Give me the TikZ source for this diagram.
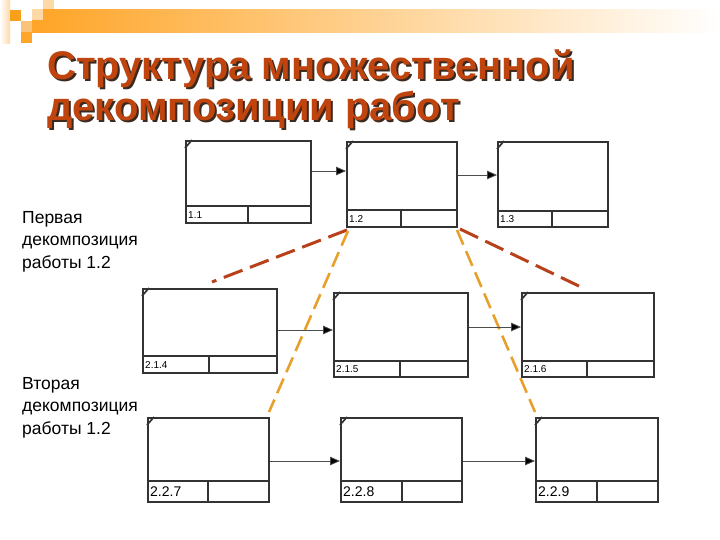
\documentclass[tikz,border=0pt]{standalone}
\usepackage{fontspec}
\setmainfont{Liberation Sans}
\usetikzlibrary{arrows.meta,calc}
\definecolor{ttl}{HTML}{C0440E}
\definecolor{ttlshadow}{HTML}{3A2A20}
\definecolor{reddash}{HTML}{B8401A}
\definecolor{orgdash}{HTML}{E8A02C}
\definecolor{barorange}{HTML}{FFA62A}
\definecolor{sqdark}{HTML}{F9A01B}
\definecolor{sqpeach}{HTML}{FDD9A8}
\definecolor{sqmid}{HTML}{FBC27A}
\definecolor{boxline}{HTML}{333333}
\newcommand\shadowed[1]{\makebox[0pt][l]{\hspace{2pt}\raisebox{-2pt}{\color{ttlshadow}#1}}#1}
\tikzset{
  idef/.style={draw=boxline, line width=1.7pt, fill=white, rectangle, inner sep=0pt},
  idefline/.style={draw=boxline, line width=1.7pt},
  flow/.style={draw=black!70, line width=0.8pt, -{Triangle[length=10pt,width=8.5pt,fill=black]}},
  reddec/.style={draw=reddash, line width=3pt, dash pattern=on 20pt off 8pt},
  orgdec/.style={draw=orgdash, line width=2.6pt, dash pattern=on 16pt off 7pt},
  smalllbl/.style={font=\fontsize{10}{12}\selectfont, inner sep=0pt, anchor=west},
  biglbl/.style={font=\fontsize{14}{16}\selectfont, inner sep=0pt, anchor=west},
  ttltext/.style={font=\fontsize{40}{48}\selectfont\bfseries, inner sep=0pt, anchor=base west, text=ttl},
  sidetext/.style={font=\fontsize{17.5}{22.5}\selectfont, align=left, inner sep=0pt, anchor=north west}
}
% #1 name, #2 left x, #3 top y, #4 width, #5 height, #6 strip height, #7 cell width, #8 label style, #9 label
\newcommand\idefbox[9]{%
  \node[idef, minimum width=#4pt, minimum height=#5pt, anchor=north west] (#1) at (#2,#3) {};
  \draw[idefline] ([yshift=#6pt]#1.south west) -- ([yshift=#6pt]#1.south east);
  \draw[idefline] ([xshift=#7pt,yshift=#6pt]#1.south west) -- ([xshift=#7pt]#1.south west);
  \draw[idefline] ([yshift=-8pt]#1.north west) -- ([xshift=7pt]#1.north west);
  \node[#8] (#1-lbl) at ($([xshift=3pt]#1.south west)!0.5!([xshift=3pt,yshift=#6pt]#1.south west)$) {#9};
}
\begin{document}
\begin{tikzpicture}[x=1pt,y=-1pt]
\useasboundingbox (0,0) rectangle (720,540);
% header decoration
\shade[left color=white, right color=sqpeach] (0,0) rectangle (10,44);
\shade[left color=barorange, right color=white] (43,10) rectangle (720,33);
\fill[barorange] (32,20) rectangle (43,33);
\fill[sqdark] (10,10) rectangle (21,21);
\fill[sqpeach] (32,9) rectangle (43,20);
\fill[sqpeach] (43,0) rectangle (54,9);
\fill[sqmid] (21,21) rectangle (32,32);
\fill[barorange] (21,32) rectangle (32,43);
% title
\node[ttltext] (title1) at (47,80) {\shadowed{Структура множественной}};
\node[ttltext] (title2) at (47,121) {\shadowed{декомпозиции работ}};
% side texts
\node[sidetext] (first) at (22,211) {Первая\\декомпозиция\\работы 1.2};
\node[sidetext] (second) at (22,377) {Вторая\\декомпозиция\\работы 1.2};
% decomposition dashed lines (behind boxes)
\coordinate (rl) at (212,282);
\coordinate (rr) at (583,288);
\coordinate (ol) at (269,412);
\coordinate (or) at (535,412);
\coordinate (s1) at (347,230);
\coordinate (s2) at (348,231);
\coordinate (s3) at (460,229);
\coordinate (s4) at (457,230);
\draw[reddec] (s1) -- (rl);
\draw[reddec] (s3) -- (rr);
\draw[orgdec] (s2) -- (ol);
\draw[orgdec] (s4) -- (or);
% boxes
\idefbox{b11}{185}{140}{125}{82}{18}{63}{smalllbl}{1.1}
\idefbox{b12}{346}{141}{110}{85}{18}{55}{smalllbl}{1.2}
\idefbox{b13}{497}{141}{110}{85}{17}{55}{smalllbl}{1.3}
\idefbox{b214}{142}{288}{134}{84}{18}{67}{smalllbl}{2.1.4}
\idefbox{b215}{333}{292}{134}{84}{17}{67}{smalllbl}{2.1.5}
\idefbox{b216}{521}{292}{132}{84}{17}{66}{smalllbl}{2.1.6}
\idefbox{b227}{147}{417}{121}{84}{22}{61}{biglbl}{2.2.7}
\idefbox{b228}{340}{417}{121}{84}{22}{62}{biglbl}{2.2.8}
\idefbox{b229}{535}{417}{122}{84}{22}{62}{biglbl}{2.2.9}
% flows
\draw[flow] (b11.east |- 0,171) -- (b12.west |- 0,171);
\draw[flow] (b12.east |- 0,175) -- (b13.west |- 0,175);
\draw[flow] (b214.east |- 0,330) -- (b215.west |- 0,330);
\draw[flow] (b215.east |- 0,327) -- (b216.west |- 0,327);
\draw[flow] (b227.east |- 0,461) -- (b228.west |- 0,461);
\draw[flow] (b228.east |- 0,461) -- (b229.west |- 0,461);
\end{tikzpicture}
\end{document}
